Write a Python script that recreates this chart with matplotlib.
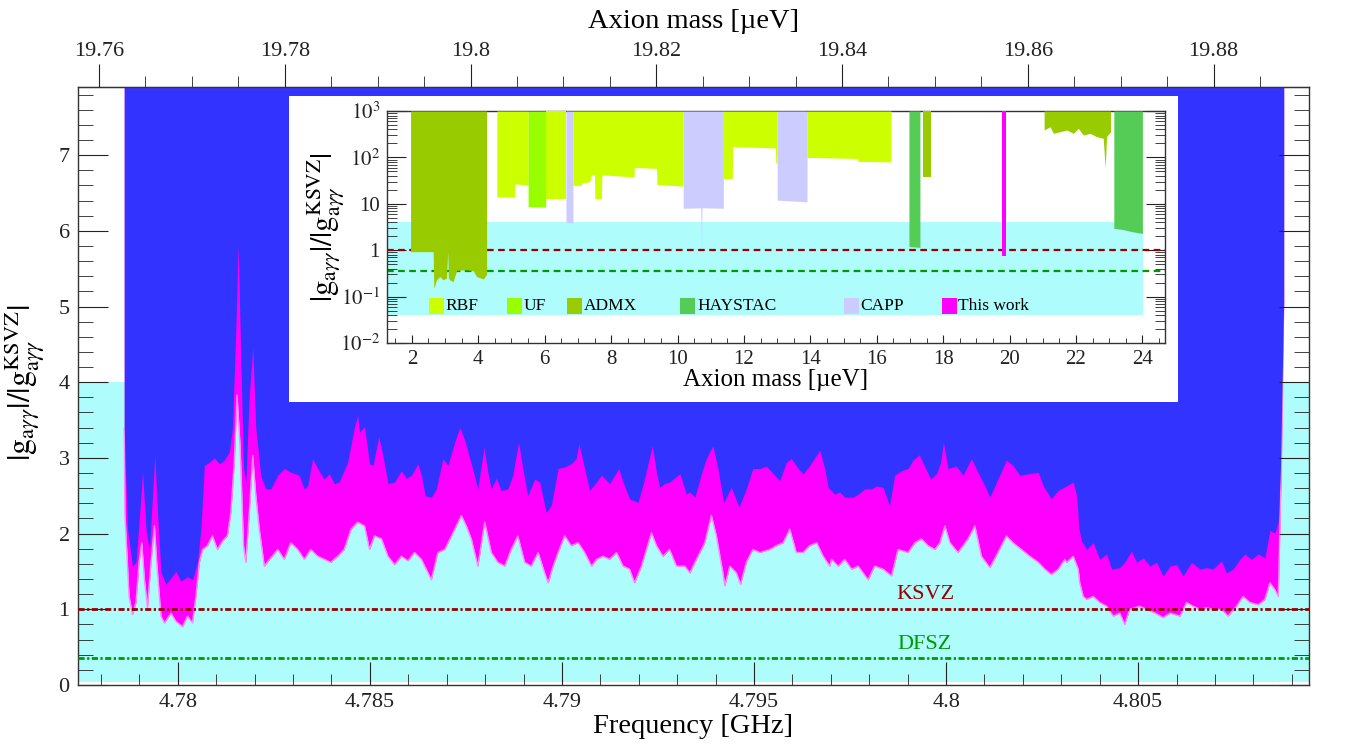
import numpy as np
import matplotlib
matplotlib.use("Agg")
import matplotlib.pyplot as plt
from matplotlib.patches import Rectangle
from matplotlib.ticker import MultipleLocator, FormatStrFormatter, LogLocator, FixedLocator, FixedFormatter, NullFormatter

plt.rcParams['font.family'] = ['Liberation Serif', 'DejaVu Serif']
plt.rcParams['mathtext.fontset'] = 'stix'

# ---------------------------------------------------------------
# main panel data: upper (smooth) and lower (noisy) edge of this work
# ---------------------------------------------------------------
freq_upper = [
    4.778604, 4.77869, 4.77882, 4.77891, 4.77904, 4.77908, 4.77917, 4.77926, 4.77934, 4.77940,
    4.77947, 4.77956, 4.77969, 4.77995, 4.78008, 4.78025, 4.78038, 4.78051, 4.78060, 4.78069,
    4.78082, 4.78095, 4.78108, 4.78121, 4.78134, 4.78142, 4.78151, 4.78157, 4.78164, 4.78171,
    4.78177, 4.78186, 4.78195, 4.78203, 4.78216, 4.78229, 4.78242, 4.78260, 4.78277, 4.78294,
    4.78316, 4.78329, 4.78338, 4.78351, 4.78364, 4.78381, 4.78394, 4.78407, 4.78420, 4.78442,
    4.78459, 4.78468,
    4.78473, 4.78486, 4.78499, 4.78508, 4.78523, 4.78534, 4.78547, 4.78564, 4.78582, 4.78595,
    4.78608, 4.78625, 4.78634, 4.78644, 4.78660, 4.78673, 4.78690, 4.78703, 4.78721, 4.78734,
    4.78747, 4.78764, 4.78781, 4.78797, 4.78807, 4.78816, 4.78829, 4.78842, 4.78859, 4.78872,
    4.78887, 4.78898, 4.78911, 4.78929, 4.78942, 4.78959, 4.78972, 4.78990, 4.79007, 4.79024,
    4.79037, 4.79044, 4.79059, 4.79072,
    4.79090, 4.79103, 4.79124, 4.79148, 4.79159, 4.79176, 4.79198, 4.79215, 4.79235, 4.79246,
    4.79254, 4.79267, 4.79280, 4.79307, 4.79324, 4.79333, 4.79346, 4.79363, 4.79376, 4.79393,
    4.79406, 4.79421, 4.79441, 4.79461, 4.79480, 4.79497, 4.79515, 4.79532, 4.79554, 4.79567,
    4.79584, 4.79597, 4.79615, 4.79628, 4.79645, 4.79671, 4.79684,
    4.79693, 4.79710, 4.79723, 4.79736, 4.79758, 4.79771, 4.79788, 4.79806, 4.79819, 4.79836,
    4.79853, 4.79866, 4.79884, 4.79901, 4.79914, 4.79930, 4.79945, 4.79960, 4.79975, 4.79986,
    4.79993, 4.80005, 4.80027, 4.80044, 4.80066, 4.80083, 4.80101, 4.80114, 4.80135, 4.80157,
    4.80174, 4.80192, 4.80214, 4.80240, 4.80253, 4.80274, 4.80292,
    4.80314, 4.80331, 4.80340, 4.80346, 4.80353, 4.80366, 4.80383, 4.80400, 4.80418, 4.80431,
    4.80452, 4.80465, 4.80483, 4.80496, 4.80513, 4.80531, 4.80548, 4.80565, 4.80583, 4.80600,
    4.80617, 4.80639, 4.80661, 4.80678, 4.80695, 4.80717, 4.80730, 4.80747, 4.80765, 4.80778,
    4.80795, 4.80813, 4.80830, 4.80843, 4.80856, 4.80865, 4.80871, 4.80876, 4.80879,
]
g_upper = [
    3.39, 2.06, 1.57, 1.62, 2.50, 2.82, 2.06, 1.77, 2.50, 3.03,
    2.28, 1.49, 1.33, 1.50, 1.37, 1.43, 1.39, 1.62, 2.06, 2.90,
    2.94, 3.00, 2.92, 2.97, 3.08, 3.39, 4.71, 5.82, 4.27, 2.86,
    2.68, 3.83, 4.45, 3.39, 2.76, 2.59, 2.59, 2.77, 2.86, 2.81,
    2.77, 2.59, 2.63, 2.99, 2.86, 2.72, 2.79, 2.66, 2.68, 2.94,
    3.39, 3.56,
    3.34, 3.41, 2.92, 2.90, 3.28, 3.03, 2.66, 2.68, 2.83, 2.73,
    2.77, 2.92, 2.77, 2.50, 2.48, 2.59, 2.99, 2.90, 3.21, 3.40,
    3.23, 2.92, 2.59, 3.14, 2.81, 2.59, 2.73, 2.57, 2.59, 2.77,
    3.21, 2.86, 2.50, 2.72, 2.68, 2.28, 2.37, 2.86, 2.88, 2.92,
    2.99, 3.19, 2.86, 2.57,
    2.68, 2.77, 2.66, 2.86, 2.68, 2.46, 2.41, 2.72, 3.16, 2.81,
    2.61, 2.66, 2.68, 2.79, 2.52, 2.55, 2.48, 2.79, 2.99, 3.16,
    2.86, 2.41, 2.61, 2.35, 2.59, 2.86, 2.86, 2.89, 2.77, 2.70,
    2.94, 2.99, 2.86, 2.79, 2.90, 3.10, 2.86,
    2.61, 2.52, 2.55, 2.48, 2.48, 2.52, 2.59, 2.59, 2.63, 2.61,
    2.37, 2.77, 2.83, 2.86, 2.97, 3.04, 2.88, 2.72, 2.79, 2.94,
    3.21, 2.86, 2.89, 2.77, 2.99, 2.81, 2.63, 2.48, 2.72, 2.97,
    2.90, 2.77, 2.79, 2.81, 2.63, 2.46, 2.57,
    2.63, 2.68, 2.50, 2.06, 1.90, 1.79, 1.88, 1.66, 1.73, 1.53,
    1.55, 1.62, 1.77, 1.62, 1.68, 1.57, 1.62, 1.44, 1.57, 1.59,
    1.44, 1.62, 1.53, 1.55, 1.53, 1.64, 1.48, 1.53, 1.66, 1.73,
    1.66, 1.73, 1.68, 2.04, 2.01, 2.15, 2.94, 4.27, 5.07,
]

freq_lower = [
    4.778604, 4.77862, 4.77873, 4.77882, 4.77891, 4.77899, 4.77906, 4.77913, 4.77921, 4.77930,
    4.77939, 4.77945, 4.77956, 4.77965, 4.77982, 4.77995, 4.78012, 4.78025, 4.78038, 4.78047,
    4.78056, 4.78064, 4.78077, 4.78090, 4.78103, 4.78116, 4.78129, 4.78138, 4.78147, 4.78154,
    4.78162, 4.78171, 4.78177, 4.78186, 4.78195, 4.78203, 4.78212, 4.78225, 4.78242, 4.78260,
    4.78277, 4.78294, 4.78312, 4.78329, 4.78346, 4.78364, 4.78381, 4.78398, 4.78416, 4.78433,
    4.78451, 4.78468,
    4.78486, 4.78499, 4.78512, 4.78530, 4.78547, 4.78564, 4.78582, 4.78599, 4.78616, 4.78634,
    4.78660, 4.78677, 4.78695, 4.78721, 4.78738, 4.78751, 4.78764, 4.78781, 4.78799, 4.78816,
    4.78833, 4.78851, 4.78868, 4.78885, 4.78903, 4.78920, 4.78938, 4.78955, 4.78964, 4.78977,
    4.78990, 4.79007, 4.79024, 4.79042, 4.79059, 4.79077,
    4.79090, 4.79107, 4.79124, 4.79142, 4.79159, 4.79176, 4.79189, 4.79207, 4.79220, 4.79233,
    4.79246, 4.79263, 4.79280, 4.79298, 4.79320, 4.79333, 4.79350, 4.79372, 4.79389, 4.79402,
    4.79419, 4.79424, 4.79437, 4.79454, 4.79465, 4.79480, 4.79497, 4.79515, 4.79541, 4.79558,
    4.79576, 4.79593, 4.79610, 4.79628, 4.79645, 4.79663, 4.79680, 4.79697,
    4.79702, 4.79719, 4.79736, 4.79754, 4.79771, 4.79797, 4.79814, 4.79836, 4.79858, 4.79875,
    4.79901, 4.79919, 4.79936, 4.79953, 4.79971, 4.79984, 4.79997, 4.80010, 4.80031, 4.80057,
    4.80075, 4.80092, 4.80114, 4.80135, 4.80157, 4.80174, 4.80196, 4.80218, 4.80240, 4.80257,
    4.80274, 4.80292, 4.80309,
    4.80314, 4.80331, 4.80344, 4.80348, 4.80357, 4.80366, 4.80383, 4.80400, 4.80418, 4.80435,
    4.80452, 4.80465, 4.80478, 4.80504, 4.80522, 4.80544, 4.80565, 4.80583, 4.80609, 4.80626,
    4.80643, 4.80661, 4.80678, 4.80695, 4.80717, 4.80734, 4.80756, 4.80773, 4.80791, 4.80813,
    4.80830, 4.80843, 4.80856, 4.80865, 4.80869, 4.80873, 4.80878, 4.80879,
]
g_lower = [
    3.39, 2.28, 1.17, 0.93, 1.09, 1.62, 1.88, 1.39, 1.02, 1.62,
    2.10, 1.62, 0.91, 0.82, 0.95, 0.84, 0.77, 0.91, 0.82, 1.17,
    1.62, 1.79, 1.84, 1.97, 1.79, 1.90, 1.97, 2.28, 2.95, 3.83,
    3.16, 1.84, 1.62, 2.28, 3.03, 2.50, 2.06, 1.57, 1.68, 1.79,
    1.66, 1.88, 1.79, 1.66, 1.79, 1.70, 1.66, 1.62, 1.70, 1.79,
    2.06, 2.15,
    2.10, 1.79, 1.97, 1.93, 1.70, 1.59, 1.70, 1.64, 1.75, 1.66,
    1.39, 1.75, 1.79, 2.06, 2.24, 2.10, 1.93, 1.57, 2.15, 1.75,
    1.62, 1.57, 1.79, 1.97, 1.62, 1.57, 1.75, 1.48, 1.35, 1.57,
    1.75, 1.97, 1.84, 1.88, 1.75, 1.57,
    1.66, 1.70, 1.66, 1.75, 1.57, 1.53, 1.35, 1.57, 1.79, 2.01,
    1.84, 1.70, 1.79, 1.57, 1.57, 1.48, 1.66, 1.88, 2.24, 1.97,
    1.48, 1.31, 1.57, 1.48, 1.33, 1.62, 1.79, 1.75, 1.79, 1.84,
    1.88, 2.06, 1.75, 1.75, 1.84, 1.88, 1.70, 1.57,
    1.66, 1.57, 1.66, 1.53, 1.57, 1.39, 1.57, 1.53, 1.44, 1.79,
    1.75, 1.88, 1.93, 1.84, 1.79, 1.88, 2.10, 1.88, 1.75, 1.93,
    2.10, 1.70, 1.55, 1.75, 1.97, 1.88, 1.79, 1.70, 1.62, 1.53,
    1.46, 1.53, 1.66,
    1.62, 1.70, 1.53, 1.35, 1.17, 1.13, 1.17, 1.09, 1.04, 0.91,
    0.95, 0.80, 1.00, 1.04, 1.00, 0.95, 0.89, 0.95, 0.91, 1.09,
    1.04, 1.00, 1.02, 1.00, 1.00, 0.91, 1.04, 1.17, 1.09, 1.06,
    1.13, 1.35, 1.26, 1.17, 2.06, 2.94, 4.71, 5.07,
]

ksvz = 1.0
dfsz = 0.36
band_lo, band_hi = 0.04, 4.0
y_top = 7.9
ghz_to_uev = 4.135667
mass_ticks = [19.76, 19.78, 19.80, 19.82, 19.84, 19.86, 19.88]

# ---------------------------------------------------------------
# inset data: lower edges of exclusion regions (top at 1e3)
# ---------------------------------------------------------------
rbf_mass = [
    [4.56, 5.10, 5.10, 5.50],
    [6.03, 6.64],
    [6.85, 7.11, 7.11, 7.36, 7.40, 7.50, 7.51, 7.71, 7.72, 8.69, 8.70, 9.37, 9.38, 10.17],
    [11.37, 11.65, 11.66, 12.95, 12.96, 13.00],
    [13.90, 15.42, 15.43, 16.43],
]
rbf_g = [
    [14, 14, 27, 25],
    [13, 13],
    [25, 25, 28, 30, 42, 42, 13, 13, 42, 38, 61, 58, 26, 24],
    [35, 35, 170, 160, 75, 75],
    [100, 95, 82, 80],
]
uf_mass = [[5.50, 6.03]]
uf_g = [[8.7, 8.5]]
admx_mass = [
    [1.96, 2.64, 2.66, 2.74, 2.84, 2.94, 3.04, 3.08, 3.10, 3.14, 3.24, 3.35, 3.65, 3.85, 3.95, 4.15, 4.25],
    [17.38, 17.62],
    [21.04, 21.22, 21.32, 21.52, 21.72, 21.92, 22.07, 22.22, 22.42, 22.62, 22.82, 22.88, 22.92, 23.04],
]
admx_g = [
    [0.93, 0.93, 0.15, 0.23, 0.27, 0.23, 0.25, 0.93, 0.25, 0.23, 0.21, 0.37, 0.38, 0.36, 0.27, 0.24, 0.30],
    [38, 38],
    [390, 458, 330, 358, 390, 330, 423, 303, 330, 280, 258, 59, 280, 358],
]
haystac_mass = [[16.97, 17.30], [23.14, 23.40, 23.70, 24.00]]
haystac_g = [[1.2, 1.15], [2.96, 2.8, 2.5, 2.3]]
capp_mass = [[6.64, 6.85], [10.17, 10.70, 10.72, 10.74, 11.38], [13.00, 13.90]]
capp_g = [[4.0, 3.9], [8.0, 8.2, 1.1, 8.2, 8.0], [12, 11]]
thiswork_mass = [[19.77, 19.89]]
thiswork_g = [[0.75, 0.75]]

legend_labels = ["RBF", "UF", "ADMX", "HAYSTAC", "CAPP", "This work"]
legend_colors = ["#ccff00", "#99ff00", "#99cc00", "#55cc55", "#ccccff", "#ff00ff"]
legend_x = [0.054, 0.154, 0.232, 0.377, 0.587, 0.713]

inset_yticks = [0.01, 0.1, 1, 10, 100, 1000]
inset_yticklabels = [r"$10^{-2}$", r"$10^{-1}$", "1", "10", r"$10^{2}$", r"$10^{3}$"]

BLUE = "#3333ff"
MAGENTA = "#ff00ff"
CYAN = "#aefcfc"
KSVZ_C = "#990000"
DFSZ_C = "#009900"
ylab = r"$|\mathrm{g}_{\mathrm{a}\gamma\gamma}|/|\mathrm{g}_{\mathrm{a}\gamma\gamma}^{\mathrm{KSVZ}}|$"

fig = plt.figure(figsize=(13.54, 7.46), dpi=100)
ax = fig.add_axes([0.0576, 0.0818, 0.9092, 0.8016])

ax.axhspan(band_lo, band_hi, color=CYAN, lw=0, zorder=0.5)
ax.fill_between(freq_lower, g_lower, y_top, color=MAGENTA, lw=0, zorder=1.0)
ax.plot(freq_lower, g_lower, color="#ff88ff", lw=1.0, zorder=1.05)
ax.fill_between(freq_upper, g_upper, y_top, color=BLUE, lw=0, zorder=1.2)

ax.axhline(ksvz, color=KSVZ_C, lw=2, ls=(0, (2.2, 0.9, 0.8, 0.9)), zorder=3)
ax.axhline(dfsz, color=DFSZ_C, lw=2, ls=(0, (2.2, 0.9, 0.8, 0.9)), zorder=3)
ax.text(4.79947, 1.20, "KSVZ", color=KSVZ_C, fontsize=16, ha="center", va="center", zorder=4)
ax.text(4.79945, 0.53, "DFSZ", color=DFSZ_C, fontsize=16, ha="center", va="center", zorder=4)

ax.set_xlim(4.7774, 4.80945)
ax.set_ylim(0, y_top)
ax.xaxis.set_major_locator(MultipleLocator(0.005))
ax.xaxis.set_minor_locator(MultipleLocator(0.001))
ax.xaxis.set_major_formatter(FormatStrFormatter("%g"))
ax.yaxis.set_major_locator(MultipleLocator(1))
ax.yaxis.set_minor_locator(MultipleLocator(0.2))
ax.tick_params(axis="both", which="both", direction="in", top=False, right=True,
               labelsize=16, colors="#222222")
ax.tick_params(axis="x", which="major", length=16.5, pad=6)
ax.tick_params(axis="x", which="minor", length=8)
ax.tick_params(axis="y", which="major", length=21.5, pad=6)
ax.tick_params(axis="y", which="minor", length=10.8)
for s in ax.spines.values():
    s.set_color("#333333")
    s.set_linewidth(1.0)
ax.set_xlabel("Frequency [GHz]", fontsize=20.5, labelpad=1)
ax.set_ylabel(ylab, fontsize=23)
ax.yaxis.set_label_coords(-0.025, 0.505)

secax = ax.secondary_xaxis("top", functions=(lambda f: f * ghz_to_uev, lambda m: m / ghz_to_uev))
secax.xaxis.set_major_locator(FixedLocator(mass_ticks))
secax.xaxis.set_minor_locator(FixedLocator(list(np.arange(19.76, 19.8875, 0.005))))
secax.xaxis.set_major_formatter(FormatStrFormatter("%g"))
secax.tick_params(which="both", direction="out", labelsize=16, colors="#222222")
secax.tick_params(which="major", length=16.5, pad=2)
secax.tick_params(which="minor", length=8)
secax.set_xlabel("Axion mass [\u00b5eV]", fontsize=20.5, labelpad=10)

# white box behind the inset
ax.add_patch(Rectangle((0.2134, 0.4611), 0.6566, 0.4102, transform=fig.transFigure,
                       facecolor="white", edgecolor="none", zorder=6, clip_on=False))

# ---------------------------------------------------------------
# inset
# ---------------------------------------------------------------
axi = fig.add_axes([0.2858, 0.5402, 0.5746, 0.3110])
axi.set_yscale("log")
axi.set_xlim(1.25, 24.68)
axi.set_ylim(0.01, 1000)
axi.fill_between([1.25, 24.03], band_lo, band_hi, color=CYAN, lw=0, zorder=1)
axi.axhline(ksvz, color=KSVZ_C, lw=1.6, ls=(0, (3, 2)), zorder=2)
axi.axhline(dfsz, color=DFSZ_C, lw=1.6, ls=(0, (3, 2)), zorder=2)

for masses, gs, col in [(rbf_mass, rbf_g, legend_colors[0]), (uf_mass, uf_g, legend_colors[1]),
                        (admx_mass, admx_g, legend_colors[2]), (haystac_mass, haystac_g, legend_colors[3]),
                        (capp_mass, capp_g, legend_colors[4]), (thiswork_mass, thiswork_g, legend_colors[5])]:
    for m, g in zip(masses, gs):
        axi.fill_between(m, g, 1000, color=col, lw=0, zorder=3)

for lab, col, lx in zip(legend_labels, legend_colors, legend_x):
    axi.add_patch(Rectangle((lx, 0.125), 0.0193, 0.069, transform=axi.transAxes,
                            facecolor=col, edgecolor="none", zorder=4))
    axi.text(lx + 0.0215, 0.158, lab, transform=axi.transAxes, fontsize=12.5,
             va="center", ha="left", zorder=4)

axi.xaxis.set_major_locator(MultipleLocator(2))
axi.xaxis.set_minor_locator(MultipleLocator(0.5))
axi.yaxis.set_major_locator(FixedLocator(inset_yticks))
axi.yaxis.set_major_formatter(FixedFormatter(inset_yticklabels))
axi.yaxis.set_minor_locator(LogLocator(base=10, subs=np.arange(2, 10)))
axi.yaxis.set_minor_formatter(NullFormatter())
axi.tick_params(axis="both", which="both", direction="in", top=False, right=True,
                labelsize=15, colors="#222222")
axi.tick_params(axis="x", which="major", length=6, pad=5)
axi.tick_params(axis="x", which="minor", length=3.5)
axi.tick_params(axis="y", which="major", length=14, pad=5)
axi.tick_params(axis="y", which="minor", length=7)
for s in axi.spines.values():
    s.set_color("#333333")
    s.set_linewidth(1.0)
axi.set_xlabel("Axion mass [\u00b5eV]", fontsize=18, labelpad=0)
axi.set_ylabel(ylab, fontsize=22)
axi.yaxis.set_label_coords(-0.052, 0.5)

fig.savefig("out.png", dpi=100)
